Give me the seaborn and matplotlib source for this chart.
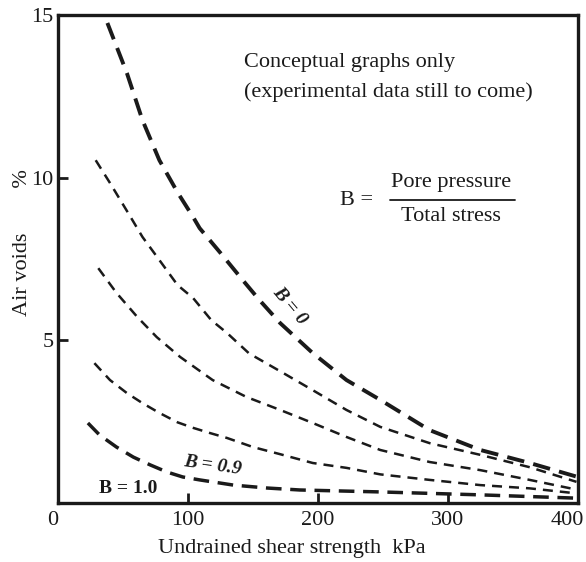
import matplotlib
matplotlib.use("Agg")
import matplotlib.pyplot as plt
import matplotlib.transforms as mtransforms
import seaborn as sns
import pandas as pd

# Data (undrained shear strength kPa, air voids %)
b0_x = [38, 53, 65, 78, 92, 104, 109, 125, 142, 155, 171, 196, 222, 248, 286, 325, 363, 400]
b0_y = [14.76, 13.22, 11.77, 10.54, 9.55, 8.79, 8.45, 7.69, 6.86, 6.24, 5.53, 4.61, 3.78, 3.17, 2.24, 1.63, 1.23, 0.8]

c2_x = [29, 40, 55, 65, 78, 92, 104, 118, 130, 147, 171, 196, 222, 248, 286, 325, 363, 399]
c2_y = [10.54, 9.84, 8.85, 8.18, 7.47, 6.7, 6.3, 5.62, 5.23, 4.6, 4.05, 3.47, 2.86, 2.34, 1.84, 1.48, 1.1, 0.65]

c3_x = [31, 45, 61, 76, 94, 119, 145, 171, 196, 222, 248, 286, 325, 363, 398]
c3_y = [7.22, 6.46, 5.72, 5.1, 4.49, 3.78, 3.26, 2.86, 2.46, 2.03, 1.63, 1.26, 1.01, 0.71, 0.42]

c4_x = [28, 40, 53, 65, 78, 92, 104, 117, 130, 150, 171, 196, 222, 248, 286, 325, 363, 398]
c4_y = [4.3, 3.78, 3.38, 3.07, 2.77, 2.48, 2.31, 2.15, 2.0, 1.72, 1.5, 1.23, 1.08, 0.88, 0.71, 0.55, 0.45, 0.3]

b09_x = [23, 32, 45, 58, 71, 84, 96, 109, 135, 161, 186, 248, 325, 398]
b09_y = [2.46, 2.09, 1.72, 1.41, 1.17, 0.95, 0.8, 0.71, 0.55, 0.46, 0.4, 0.34, 0.25, 0.15]

x_ticks = [0, 100, 200, 300, 400]
x_tick_labels = ["0", "100", "200", "300", "400"]
y_ticks = [5, 10, 15]
y_tick_labels = ["5", "10", "15"]

INK = "#1a1a1a"
sns.set_style("ticks")
plt.rcParams["font.family"] = ["Liberation Serif", "DejaVu Serif"]

fig = plt.figure(figsize=(5.86, 5.62), dpi=100)
ax = fig.add_axes([0.099, 0.105, 0.887, 0.868])

curves = [
    (b0_x, b0_y, 2.8, (4.5, 2.4)),
    (c2_x, c2_y, 1.8, (4.0, 2.8)),
    (c3_x, c3_y, 1.8, (4.0, 2.8)),
    (c4_x, c4_y, 1.8, (4.0, 2.8)),
    (b09_x, b09_y, 2.5, (4.5, 2.5)),
]
for xs, ys, lw, dash in curves:
    df = pd.DataFrame({"x": xs, "y": ys})
    sns.lineplot(data=df, x="x", y="y", ax=ax, color=INK, lw=lw,
                 linestyle=(0, dash), sort=True, estimator=None)

ax.set_xlim(0, 400)
ax.set_ylim(0, 15)
ax.set_xticks(x_ticks)
ax.set_xticklabels(x_tick_labels)
ax.set_yticks(y_ticks)
ax.set_yticklabels(y_tick_labels)
ax.tick_params(direction="in", length=7, width=2, labelsize=16, colors=INK)
ax.tick_params(axis="x", pad=6)
ax.tick_params(axis="y", pad=3)
for s in ax.spines.values():
    s.set_linewidth(2.4)
    s.set_color(INK)

# nudge the edge labels like the reference
xl = ax.get_xticklabels()
xl[0].set_transform(xl[0].get_transform() + mtransforms.ScaledTranslation(-5 / 100, 0, fig.dpi_scale_trans))
xl[-1].set_transform(xl[-1].get_transform() + mtransforms.ScaledTranslation(-10 / 100, 0, fig.dpi_scale_trans))

ax.set_xlabel("Undrained shear strength  kPa", fontsize=16, color=INK, va="center")
ax.xaxis.set_label_coords(0.45, -0.094)
ax.set_ylabel("Air voids        %", fontsize=16, color=INK, va="center")
ax.yaxis.set_label_coords(-0.069, 0.533)

ax.text(0.358, 0.902, "Conceptual graphs only", transform=ax.transAxes,
        fontsize=16, va="center", ha="left", color=INK)
ax.text(0.358, 0.842, "(experimental data still to come)", transform=ax.transAxes,
        fontsize=16, va="center", ha="left", color=INK)
ax.text(0.542, 0.621, "B =", transform=ax.transAxes, fontsize=16, va="center",
        ha="left", color=INK)
ax.text(0.756, 0.656, "Pore pressure", transform=ax.transAxes, fontsize=16,
        va="center", ha="center", color=INK)
ax.text(0.756, 0.587, "Total stress", transform=ax.transAxes, fontsize=16,
        va="center", ha="center", color=INK)
ax.plot([0.638, 0.879], [0.621, 0.621], transform=ax.transAxes, color=INK, lw=1.3)

ax.text(178.5, 6.05, "B = 0", fontsize=14, fontweight="bold", fontstyle="italic",
        rotation=-50, ha="center", va="center", color=INK)
ax.text(119, 1.14, "B = 0.9", fontsize=14, fontweight="bold", fontstyle="italic",
        rotation=-8, ha="center", va="center", color=INK)
ax.text(54, 0.46, "B = 1.0", fontsize=14, fontweight="bold",
        ha="center", va="center", color=INK)

fig.savefig("out.png", dpi=100, facecolor="white")
